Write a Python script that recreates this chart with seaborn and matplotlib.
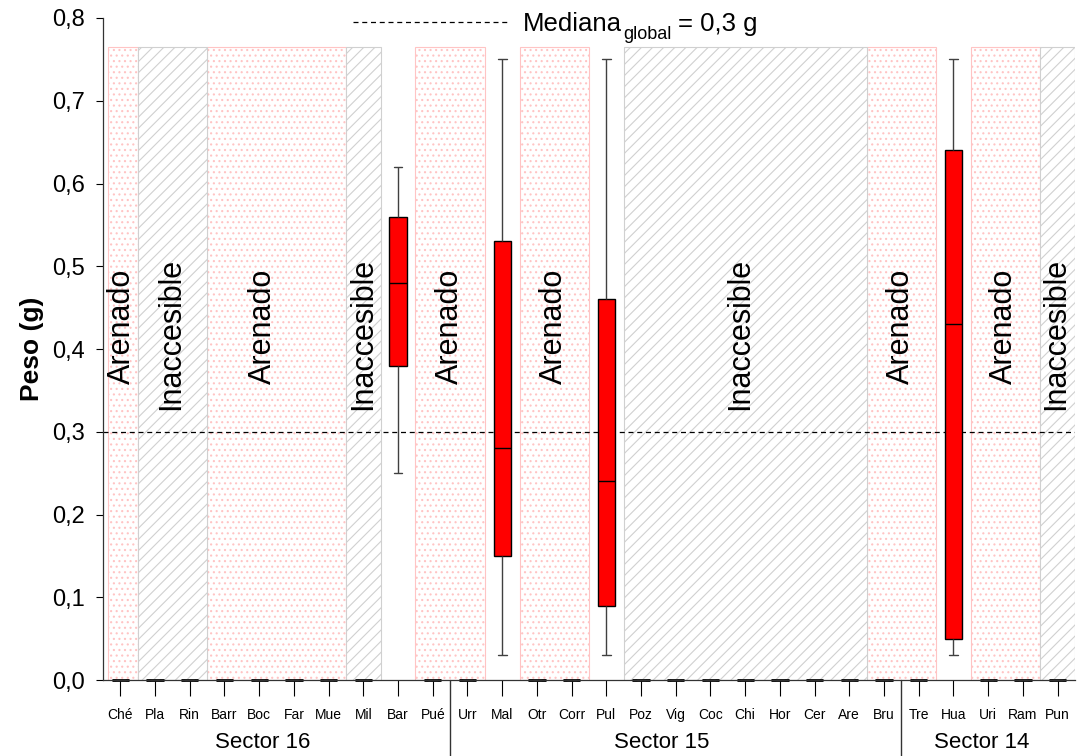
import numpy as np
import pandas as pd
import matplotlib
matplotlib.use("Agg")
import matplotlib.pyplot as plt
import seaborn as sns
from matplotlib.patches import Rectangle
from matplotlib.lines import Line2D
from matplotlib.ticker import FuncFormatter, MultipleLocator
import matplotlib.transforms as mtransforms

# ---------------- data ----------------
categories = ['Ché', 'Pla', 'Rin', 'Barr', 'Boc', 'Far', 'Mue', 'Mil', 'Bar', 'Pué',
              'Urr', 'Mal', 'Otr', 'Corr', 'Pul', 'Poz', 'Vig', 'Coc', 'Chi', 'Hor',
              'Cer', 'Are', 'Bru', 'Tre', 'Hua', 'Uri', 'Ram', 'Pun']

box_sites = ['Bar', 'Mal', 'Pul', 'Hua']
whisker_low = [0.25, 0.03, 0.03, 0.03]
q1 = [0.38, 0.15, 0.09, 0.05]
median = [0.48, 0.28, 0.24, 0.43]
q3 = [0.56, 0.53, 0.46, 0.64]
whisker_high = [0.62, 0.75, 0.75, 0.75]

global_median = 0.3

sectors = ['Sector 16', 'Sector 15', 'Sector 14']
sector_label_x = [4.1, 15.6, 24.8]
sector_breaks = [9.5, 22.5]

arenado_spans = [(-0.35, 0.5), (2.5, 6.5), (8.5, 10.5), (11.5, 13.5), (21.5, 23.5), (24.5, 26.5)]
arenado_label_x = [0.06, 4.12, 9.5, 12.5, 22.5, 25.45]
inacc_spans = [(0.5, 2.5), (6.5, 7.5), (14.5, 21.5), (26.5, 27.5)]
inacc_label_x = [1.45, 7.0, 17.85, 26.97]
span_top = 0.765

# build long-form sample so that quartiles equal the read values
rows = []
for c in categories:
    if c in box_sites:
        i = box_sites.index(c)
        vals = [whisker_low[i], q1[i], median[i], q3[i], whisker_high[i]]
    else:
        vals = [0.0] * 5
    for v in vals:
        rows.append({'sitio': c, 'peso': v})
df = pd.DataFrame(rows)

# ---------------- style ----------------
sns.set_style('ticks')
plt.rcParams['font.family'] = ['Liberation Sans', 'DejaVu Sans']
plt.rcParams['text.color'] = 'black'
plt.rcParams['axes.labelcolor'] = 'black'
plt.rcParams['xtick.color'] = 'black'
plt.rcParams['ytick.color'] = 'black'
plt.rcParams['hatch.linewidth'] = 0.8

fig = plt.figure(figsize=(10.92, 7.56), dpi=100)
ax = fig.add_axes([0.0943, 0.1005, 0.8901, 0.8757])

# background spans
for x0, x1 in arenado_spans:
    ax.add_patch(Rectangle((x0, 0), x1 - x0, span_top, facecolor='white',
                           edgecolor='#FFC4C4', hatch='...', lw=0.8, zorder=0.5))
for x0, x1 in inacc_spans:
    ax.add_patch(Rectangle((x0, 0), x1 - x0, span_top, facecolor='white',
                           edgecolor='#D0D0D0', hatch='///', lw=0.8, zorder=0.5))
for x in arenado_label_x:
    ax.text(x, 0.427, 'Arenado', rotation=90, ha='center', va='center',
            fontsize=22, zorder=1)
for x in inacc_label_x:
    ax.text(x, 0.418, 'Inaccesible', rotation=90, ha='center', va='center',
            fontsize=22, zorder=1)

ax.axhline(global_median, color='black', lw=0.9, ls=(0, (4, 3)), zorder=0.8)

sns.boxplot(data=df, x='sitio', y='peso', order=categories, color='red',
            saturation=1, width=0.5, whis=(0, 100), linecolor='black',
            linewidth=1, fliersize=0, ax=ax,
            whiskerprops=dict(color='#404040'), capprops=dict(color='#404040'))
for art in list(ax.patches) + list(ax.lines):
    if art.get_zorder() >= 1:
        art.set_clip_on(False)
# collapsed (all-zero) boxes read as a thicker dash on the axis
for p in ax.patches:
    if p.get_zorder() >= 1:
        ext = p.get_path().get_extents(p.get_patch_transform() + ax.transData)
        if ext.height < 1:
            p.set_linewidth(2)

ax.set_xlim(-0.5, 27.5)
ax.set_ylim(0, 0.8)
ax.yaxis.set_major_locator(MultipleLocator(0.1))
ax.yaxis.set_major_formatter(FuncFormatter(lambda v, p: f'{v:.1f}'.replace('.', ',')))
ax.set_xlabel('')
ax.set_ylabel('Peso (g)', fontsize=19, fontweight='bold', labelpad=6)
ax.tick_params(axis='y', labelsize=17, length=5, width=0.8, pad=8, direction='out')
ax.tick_params(axis='x', labelsize=10, length=11.5, width=0.8, pad=9, direction='out')
for s in ['top', 'right']:
    ax.spines[s].set_visible(False)
for s in ['left', 'bottom']:
    ax.spines[s].set_linewidth(0.9)
    ax.spines[s].set_color('#333333')

# sector separators and labels
trans = mtransforms.blended_transform_factory(ax.transData, ax.transAxes)
for xb in sector_breaks:
    ax.add_line(Line2D([xb, xb], [0, -0.12], transform=trans, color='#333333',
                       lw=1, clip_on=False))
for x, s in zip(sector_label_x, sectors):
    ax.text(x, -0.094, s, transform=trans, ha='center', va='center', fontsize=16)

# legend-like header
fig.add_artist(Line2D([353 / 1092, 508 / 1092], [1 - 22 / 756] * 2, color='black',
                      lw=0.9, ls=(0, (4, 3))))
renderer = fig.canvas.get_renderer()
base_y = 1 - 31 / 756
t1 = fig.text(523 / 1092, base_y, 'Mediana', fontsize=18.5, ha='left', va='baseline')
x_px = t1.get_window_extent(renderer).x1
t2 = fig.text(x_px / 1092 + 1 / 1092, base_y - 8 / 756, 'global', fontsize=13,
              ha='left', va='baseline')
x_px = t2.get_window_extent(renderer).x1
fig.text(x_px / 1092 + 7 / 1092, base_y, '= 0,3 g', fontsize=18.5, ha='left',
         va='baseline')

fig.savefig('out.png', dpi=100)
